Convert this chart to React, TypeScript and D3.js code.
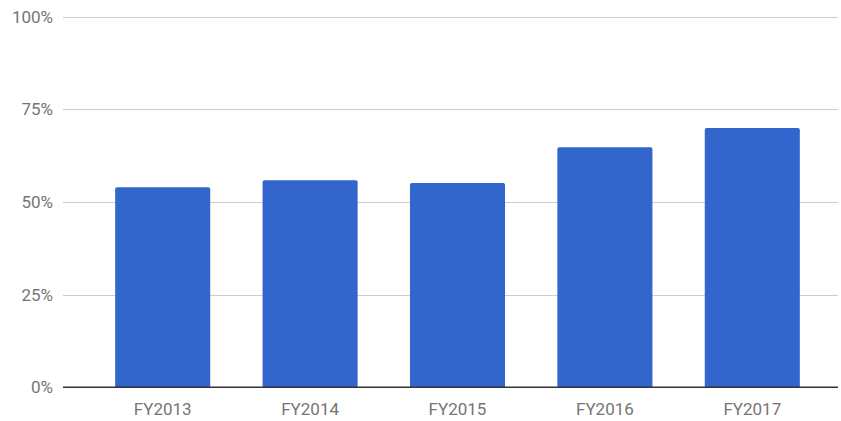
import React from "react";
import * as d3 from "d3";

const categories = ["FY2013", "FY2014", "FY2015", "FY2016", "FY2017"];
const values = [54, 55.9, 55.1, 64.8, 70];
const yTicks = [0, 25, 50, 75, 100];

const W = 841;
const H = 421;

export default function App() {
  const y = d3.scaleLinear().domain([0, 100]).range([387.3, 16.7]);
  const x = d3
    .scaleBand<string>()
    .domain(categories)
    .range([89, 826])
    .paddingInner(0.355)
    .paddingOuter(0.1775);
  const gridX0 = 63;
  const gridX1 = 838;
  const font = "Roboto, 'Noto Sans', Arial, sans-serif";
  return (
    <svg
      width={W}
      height={H}
      style={{ position: "absolute", left: 0, top: 0, background: "#fff" }}
    >
      {yTicks.map((t) => (
        <g key={t}>
          {t !== 0 && (
            <line
              x1={gridX0}
              x2={gridX1}
              y1={Math.round(y(t)) + 0.5}
              y2={Math.round(y(t)) + 0.5}
              stroke="#cccccc"
              strokeWidth={1}
            />
          )}
          <text
            x={53}
            y={y(t)}
            dy="0.35em"
            textAnchor="end"
            fontFamily={font}
            fontSize={17}
            fill="#757575"
          >
            {t}%
          </text>
        </g>
      ))}
      {categories.map((c, i) => {
        const top = y(values[i]);
        const bottom = y(0);
        const bw = x.bandwidth();
        const r = 2;
        const x0 = x(c)!;
        const path = `M${x0},${bottom} V${top + r} Q${x0},${top} ${x0 + r},${top} H${x0 + bw - r} Q${x0 + bw},${top} ${x0 + bw},${top + r} V${bottom} Z`;
        return <path key={c} d={path} fill="#3366cc" />;
      })}
      <line
        x1={gridX0}
        x2={gridX1}
        y1={y(0)}
        y2={y(0)}
        stroke="#333333"
        strokeWidth={1.5}
      />
      {categories.map((c) => (
        <text
          key={c}
          x={x(c)! + x.bandwidth() / 2}
          y={415}
          textAnchor="middle"
          fontFamily={font}
          fontSize={17}
          fill="#757575"
        >
          {c}
        </text>
      ))}
    </svg>
  );
}
